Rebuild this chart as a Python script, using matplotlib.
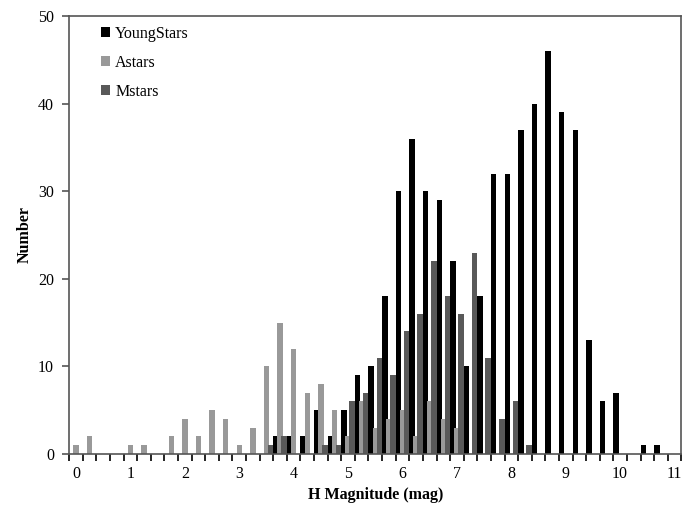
import numpy as np
import matplotlib.pyplot as plt

# H-magnitude bins (0.25 mag wide), one category per bin
h_mag = np.arange(45) * 0.25

young_stars = [0, 0, 0, 0, 0, 0, 0, 0, 0, 0,
               0, 0, 0, 0, 0, 2, 2, 2, 5, 2,
               5, 9, 10, 18, 30, 36, 30, 29, 22, 10,
               18, 32, 32, 37, 40, 46, 39, 37, 13, 6,
               7, 0, 1, 1, 0]
a_stars = [1, 2, 0, 0, 1, 1, 0, 2, 4, 2,
           5, 4, 1, 3, 10, 15, 12, 7, 8, 5,
           2, 6, 3, 4, 5, 2, 6, 4, 3, 0,
           0, 0, 0, 0, 0, 0, 0, 0, 0, 0,
           0, 0, 0, 0, 0]
m_stars = [0, 0, 0, 0, 0, 0, 0, 0, 0, 0,
           0, 0, 0, 0, 1, 2, 0, 0, 1, 1,
           6, 7, 11, 9, 14, 16, 22, 18, 16, 23,
           11, 4, 6, 1, 0, 0, 0, 0, 0, 0,
           0, 0, 0, 0, 0]

series_names = ["YoungStars", "Astars", "Mstars"]
series_colors = ["#000000", "#999999", "#595959"]

plt.rcParams["font.family"] = ["Liberation Serif", "DejaVu Serif"]

fig = plt.figure(figsize=(6.95, 5.16), dpi=100)
ax = fig.add_axes([0.0997, 0.1202, 0.8806, 0.8488])

bin_w = 0.25
bar_w = 0.1
offsets = [-0.075, 0.0, 0.075]
handles = []
for vals, off, col, name in zip([young_stars, a_stars, m_stars], offsets,
                                series_colors, series_names):
    bc = ax.bar(h_mag + off, vals, width=bar_w, color=col, label=name,
                linewidth=0)
    handles.append(bc)

ax.set_xlim(h_mag[0] - bin_w / 2, h_mag[-1] + bin_w / 2)
ax.set_ylim(0, 50)

# category boundaries get tick marks, integer magnitudes get labels
ax.set_xticks(np.arange(0, 12))
ax.set_xticklabels([str(i) for i in range(12)])
ax.set_xticks(np.arange(46) * bin_w - bin_w / 2, minor=True)
ax.tick_params(axis="x", which="major", length=0, pad=9, labelsize=11.5)
ax.tick_params(axis="x", which="minor", length=5, width=1.2,
               direction="out", color="#000000")
ax.set_yticks(np.arange(0, 51, 10))
ax.tick_params(axis="y", which="major", length=5, width=1.2,
               direction="out", pad=6, labelsize=11.5, color="#555555")

for sp in ax.spines.values():
    sp.set_color("#555555")
    sp.set_linewidth(1.2)

ax.set_xlabel("H Magnitude (mag)", fontsize=11.5, fontweight="bold",
              labelpad=3)
ax.set_ylabel("Number", fontsize=11.5, fontweight="bold", labelpad=4)

ax.legend(handles=handles, loc="upper left", frameon=False,
          fontsize=11.5, handlelength=0.6, handleheight=0.6,
          handletextpad=0.3, labelspacing=0.8,
          bbox_to_anchor=(0.028, 1.01))

fig.savefig("out.png", dpi=100)
